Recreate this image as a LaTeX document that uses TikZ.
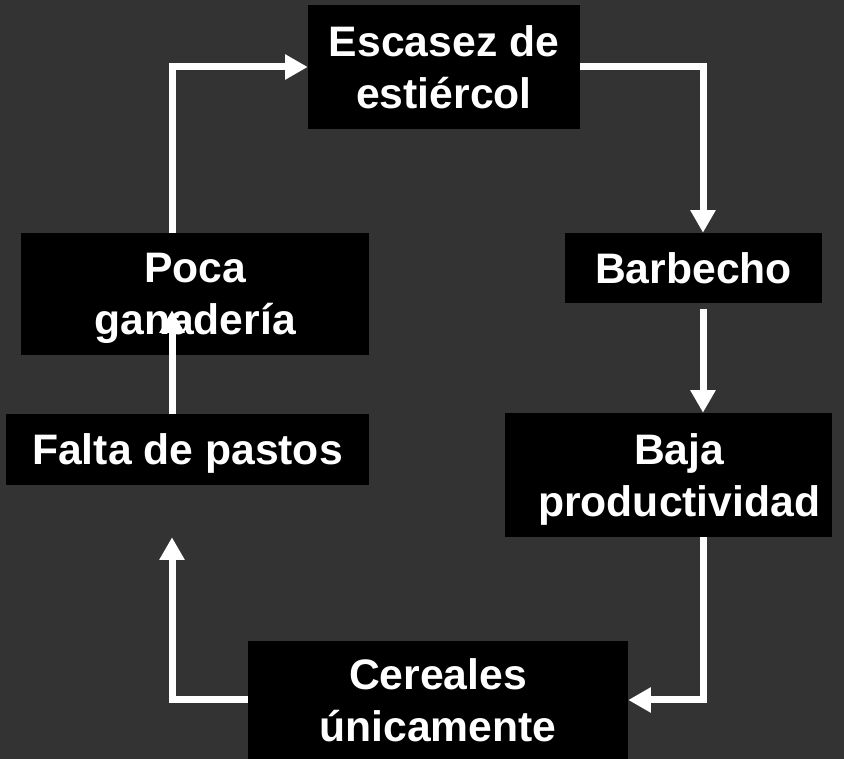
\documentclass[tikz,border=0pt]{standalone}
\usepackage{fontspec}
\setmainfont{Liberation Sans}
\usetikzlibrary{arrows.meta, calc, positioning}
\definecolor{bggrey}{HTML}{333333}

\begin{document}
\begin{tikzpicture}[x=0.75pt, y=-0.75pt, >={Triangle[width=18pt, length=17pt]},
                box/.style={fill=black, text=white, inner sep=0pt, align=center, text depth=0pt,
                    font=\fontsize{32}{39}\selectfont\bfseries},
                link/.style={->, draw=white, line width=5.25pt}]
                \useasboundingbox (0,0) rectangle (844,759);
                \fill[bggrey] (0,0) rectangle (844,759);

                \node[box, minimum width=204pt, minimum height=93pt] (escasez) at (444,67) {Escasez de\\estiércol};
                \node[box, minimum width=192.75pt, minimum height=52.5pt] (barbecho) at (693.5,268) {Barbecho};
                \node[box, minimum width=245.25pt, minimum height=93pt] (baja) at (668.5,475) {\hspace*{16pt}Baja\\\hspace*{16pt}productividad};
                \node[box, minimum width=285pt, minimum height=88.5pt] (cereales) at (438,700) {Cereales\\únicamente};
                \node[box, minimum width=272.25pt, minimum height=53.25pt] (falta) at (187.5,449.5) {Falta de pastos};
                \node[box, minimum width=261pt, minimum height=91.5pt] (poca) at (195,294) {Poca\\ganadería};

                % Guide lines for the two vertical runs
                \coordinate (rx) at (703,0);
                \coordinate (lx) at (172,0);

                % Connections: right side, going down
                \draw[link] (escasez.east) -| (rx |- barbecho.north);
                \draw[link, shorten <=4pt] (rx |- barbecho.south) -- (rx |- baja.north);
                \draw[link] (rx |- baja.south) |- (cereales.east);

                % Connections: left side, going up
                \draw[link, shorten >=39pt] (cereales.west) -| (lx |- falta.south);
                \draw[link, shorten >=-33.75pt] (lx |- falta.north) -- (lx |- poca.south);
                \draw[link] (lx |- poca.north) |- (escasez.west);
            \end{tikzpicture}
\end{document}
